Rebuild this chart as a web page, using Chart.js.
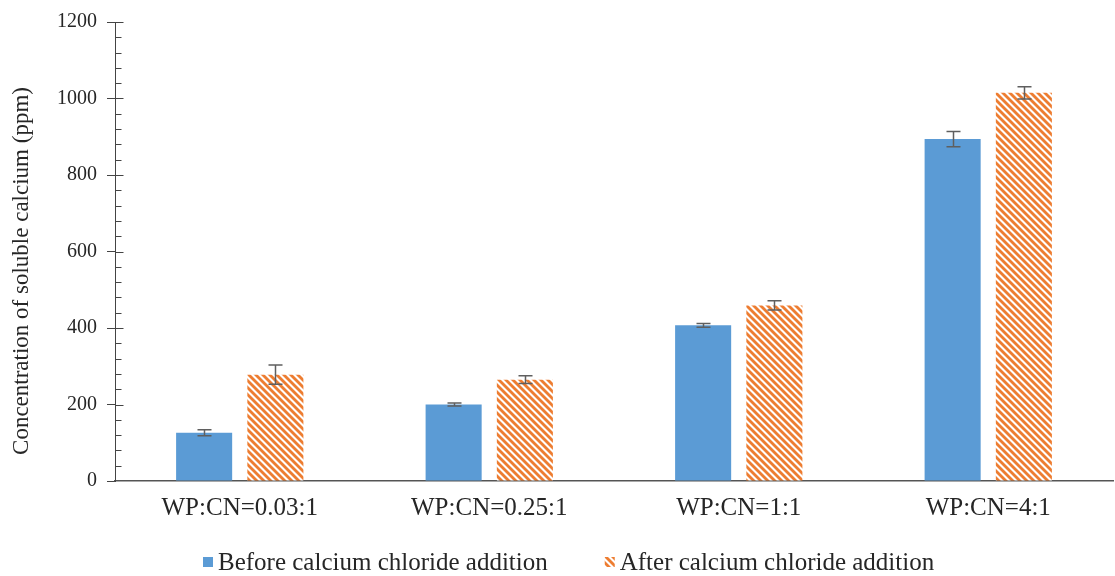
<!DOCTYPE html>
<html>
<head>
<meta charset="utf-8">
<script src="https://cdn.jsdelivr.net/npm/chart.js@4/dist/chart.umd.min.js"></script>
<style>
  html, body { margin: 0; padding: 0; background: #fff; }
  #wrap { width: 1115px; height: 576px; position: relative; }
</style>
</head>
<body>
<div id="wrap"><canvas id="c" width="1115" height="576"></canvas></div>
<script>
// Soluble calcium by whey protein : casein ratio
const categories = ['WP:CN=0.03:1', 'WP:CN=0.25:1', 'WP:CN=1:1', 'WP:CN=4:1'];
const beforeValues = [126, 200, 407, 894];
const beforeErrors = [8, 4, 5, 20];
const afterValues = [278, 265, 459, 1015];
const afterErrors = [25, 10, 12, 16];
const yTicks = [0, 200, 400, 600, 800, 1000, 1200];
const seriesNames = ['Before calcium chloride addition', 'After calcium chloride addition'];
const yTitle = 'Concentration of soluble calcium (ppm)';

const BLUE = '#5B9BD5';
const ORANGE = '#ED7D31';
const TEXT = '#262626';
const FONT = "'Liberation Serif', 'Times New Roman', serif";

// Diagonal orange hatch on white
function makeHatch() {
  const n = 7;
  const t = document.createElement('canvas');
  t.width = n; t.height = n;
  const g = t.getContext('2d');
  g.fillStyle = '#fff';
  g.fillRect(0, 0, n, n);
  g.strokeStyle = ORANGE;
  g.lineWidth = 2.8;
  for (let k = -1; k <= 1; k++) {
    g.beginPath();
    g.moveTo(k * n - 1, -1);
    g.lineTo(k * n + n + 1, n + 1);
    g.stroke();
  }
  return document.getElementById('c').getContext('2d').createPattern(t, 'repeat');
}
const hatch = makeHatch();

// Error bars, inner tick marks, rotated axis title and the legend row
const extras = {
  id: 'extras',
  afterDatasetsDraw(chart) {
    const ctx = chart.ctx;
    const y = chart.scales.y;
    const errs = [beforeErrors, afterErrors];
    const vals = [beforeValues, afterValues];
    ctx.save();
    ctx.strokeStyle = '#5f5f5f';
    ctx.lineWidth = 1.5;
    chart.data.datasets.forEach((ds, di) => {
      const meta = chart.getDatasetMeta(di);
      meta.data.forEach((bar, i) => {
        const v = vals[di][i], e = errs[di][i];
        const yt = y.getPixelForValue(v + e);
        const yb = y.getPixelForValue(v - e);
        const x = Math.round(bar.x) + 0.5;
        ctx.beginPath();
        ctx.moveTo(x, yt); ctx.lineTo(x, yb);
        ctx.moveTo(x - 7, yt); ctx.lineTo(x + 7, yt);
        ctx.moveTo(x - 7, yb); ctx.lineTo(x + 7, yb);
        ctx.stroke();
      });
    });

    // tick marks on the inner side of the value axis
    const ax = Math.round(chart.chartArea.left) + 0.5;
    ctx.strokeStyle = '#444';
    ctx.lineWidth = 1;
    for (let v = 40; v <= 1200; v += 40) {
      const py = Math.round(y.getPixelForValue(v)) + 0.5;
      const len = (v % 200 === 0) ? 8 : 6;
      ctx.beginPath();
      ctx.moveTo(ax, py); ctx.lineTo(ax + len, py);
      ctx.stroke();
    }

    // rotated value-axis title
    ctx.fillStyle = TEXT;
    ctx.font = `23px ${FONT}`;
    ctx.textAlign = 'center';
    ctx.textBaseline = 'middle';
    ctx.save();
    ctx.translate(22, 271);
    ctx.rotate(-Math.PI / 2);
    ctx.fillText(yTitle, 0, 0);
    ctx.restore();

    // legend row
    ctx.font = `25px ${FONT}`;
    ctx.textAlign = 'left';
    const box = 10, gapText = 5, gapItem = 57;
    const w0 = ctx.measureText(seriesNames[0]).width;
    const w1 = ctx.measureText(seriesNames[1]).width;
    const total = box + gapText + w0 + gapItem + box + gapText + w1;
    let lx = Math.round(569 - total / 2);
    const ly = 563;
    const fills = [BLUE, hatch];
    [w0, w1].forEach((w, i) => {
      ctx.fillStyle = fills[i];
      ctx.fillRect(lx, ly - 6, box, box);
      ctx.fillStyle = TEXT;
      ctx.fillText(seriesNames[i], lx + box + gapText, ly);
      lx += box + gapText + w + gapItem;
    });
    ctx.restore();
  }
};

new Chart(document.getElementById('c'), {
  type: 'bar',
  data: {
    labels: categories,
    datasets: [
      { label: seriesNames[0], data: beforeValues, backgroundColor: BLUE },
      { label: seriesNames[1], data: afterValues, backgroundColor: hatch }
    ]
  },
  options: {
    responsive: false,
    animation: false,
    devicePixelRatio: 1,
    layout: { padding: { top: 22, right: 2, left: 0, bottom: 43 } },
    datasets: { bar: { categoryPercentage: 0.571, barPercentage: 0.787 } },
    plugins: {
      legend: { display: false },
      tooltip: { enabled: false }
    },
    scales: {
      x: {
        grid: { display: false, drawTicks: false },
        border: { display: true, color: '#555', width: 1.5 },
        ticks: { color: TEXT, font: { family: FONT, size: 25 }, padding: 12 },
        afterFit(s) { s.height = 52; }
      },
      y: {
        min: 0, max: 1200,
        afterBuildTicks(s) { s.ticks = yTicks.map(v => ({ value: v })); },
        grid: { drawOnChartArea: false, drawTicks: true, tickLength: 8, color: '#444' },
        border: { display: true, color: '#444', width: 1 },
        ticks: {
          color: TEXT, font: { family: FONT, size: 20 }, padding: 10,
          callback: v => String(v)
        },
        afterFit(s) { s.width = 115; }
      }
    }
  },
  plugins: [extras]
});
</script>
</body>
</html>
